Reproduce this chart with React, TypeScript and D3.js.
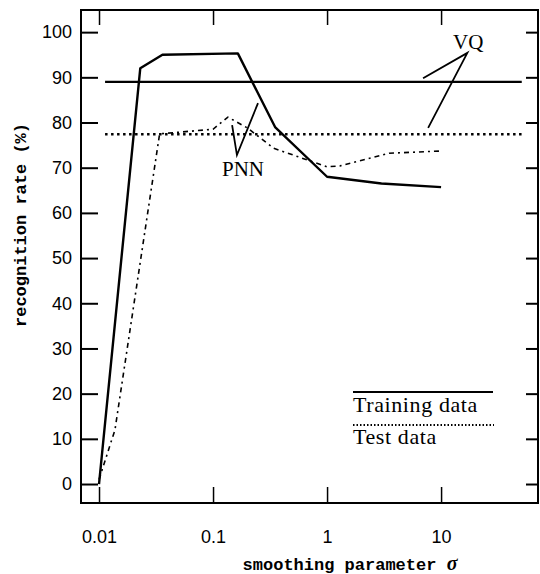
import React, { useEffect, useRef } from 'react'
import * as d3 from 'd3'

// PNN curves
const trainSigma = [0.01, 0.023, 0.036, 0.165, 0.35, 1.0, 3.0, 10]
const trainPNN = [0, 92, 95, 95.3, 79, 68, 66.5, 65.7]
const testSigma = [0.01, 0.0138, 0.034, 0.1, 0.135, 0.2, 0.34, 1.0, 1.3, 3.5, 10]
const testPNN = [1, 12, 77.5, 78.5, 81.2, 78.8, 74.3, 70.2, 70.4, 73.2, 73.7]

// VQ is flat over sigma
const vqSigma = [0.0113, 51]
const vqTrain = [89, 89]
const vqTest = [77.4, 77.4]

const yTicks = [0, 10, 20, 30, 40, 50, 60, 70, 80, 90, 100]
const xTicks = [0.01, 0.1, 1, 10]
const xTickLabels = ['0.01', '0.1', '1', '10']

const legendLabels = ['Training data', 'Test data']

export default function App() {
  const ref = useRef<SVGSVGElement>(null)

  useEffect(() => {
    const svg = d3.select(ref.current)
    svg.selectAll('*').remove()

    const left = 81, right = 538, top = 10, bottom = 503

    const x = d3.scaleLog().domain([0.00695, 70.8]).range([left, right])
    const y = d3.scaleLinear().domain([-4.2, 104.9]).range([bottom, top])

    // frame
    svg.append('rect')
      .attr('x', left).attr('y', top)
      .attr('width', right - left).attr('height', bottom - top)
      .attr('fill', 'none').attr('stroke', '#000').attr('stroke-width', 2)

    const tickFont = '"Liberation Sans", Arial, sans-serif'

    // left axis with labels
    const gl = svg.append('g').attr('transform', 'translate(' + left + ',0)')
      .call(d3.axisLeft(y).tickValues(yTicks).tickSize(-17).tickPadding(9).tickFormat(d3.format('d')))
    gl.select('.domain').remove()
    gl.selectAll('line').attr('stroke-width', 2)
    gl.selectAll('text').attr('font-family', tickFont).attr('font-size', 18).attr('fill', '#000')

    // right axis ticks only
    const gr = svg.append('g').attr('transform', 'translate(' + right + ',0)')
      .call(d3.axisRight(y).tickValues(yTicks).tickSize(-12).tickFormat(() => ''))
    gr.select('.domain').remove()
    gr.selectAll('line').attr('stroke-width', 2)

    // bottom axis
    const gb = svg.append('g').attr('transform', 'translate(0,' + bottom + ')')
      .call(d3.axisBottom(x).tickValues(xTicks).tickSize(-16).tickPadding(27)
        .tickFormat((d, i) => xTickLabels[i]))
    gb.select('.domain').remove()
    gb.selectAll('line').attr('stroke-width', 1.5)
    gb.selectAll('text').attr('font-family', tickFont).attr('font-size', 18).attr('fill', '#000')

    // top axis
    const gt = svg.append('g').attr('transform', 'translate(0,' + top + ')')
      .call(d3.axisTop(x).tickValues(xTicks).tickSize(-15).tickFormat(() => ''))
    gt.select('.domain').remove()
    gt.selectAll('line').attr('stroke-width', 1.5)

    const line = d3.line<[number, number]>()
      .x(d => x(d[0]))
      .y(d => y(d[1]))

    const pairs = (xs: number[], ys: number[]) => xs.map((v, i) => [v, ys[i]] as [number, number])

    // VQ lines
    svg.append('path').datum(pairs(vqSigma, vqTrain)).attr('d', line)
      .attr('fill', 'none').attr('stroke', '#000').attr('stroke-width', 2.2)
    svg.append('path').datum(pairs(vqSigma, vqTest)).attr('d', line)
      .attr('fill', 'none').attr('stroke', '#000').attr('stroke-width', 2.5)
      .attr('stroke-dasharray', '2.5,3.5')

    // PNN lines
    svg.append('path').datum(pairs(trainSigma, trainPNN)).attr('d', line)
      .attr('fill', 'none').attr('stroke', '#000').attr('stroke-width', 2.4)
      .attr('stroke-linejoin', 'round')
    svg.append('path').datum(pairs(testSigma, testPNN)).attr('d', line)
      .attr('fill', 'none').attr('stroke', '#000').attr('stroke-width', 1.6)
      .attr('stroke-dasharray', '5,4,2,4')

    const serif = '"Liberation Serif", "Times New Roman", serif'

    // PNN annotation
    svg.append('path')
      .datum([[0.147, 79.4], [0.162, 72.8], [0.248, 84.3]] as [number, number][])
      .attr('d', line).attr('fill', 'none').attr('stroke', '#000').attr('stroke-width', 1.8)
    svg.append('text').attr('x', x(0.183)).attr('y', y(68.1))
      .attr('text-anchor', 'middle').attr('font-family', serif).attr('font-size', 21)
      .text('PNN')

    // VQ annotation
    svg.append('path')
      .datum([[6.95, 89.8], [17, 95.4], [7.7, 78.8]] as [number, number][])
      .attr('d', line).attr('fill', 'none').attr('stroke', '#000').attr('stroke-width', 1.8)
    svg.append('text').attr('x', x(17.3)).attr('y', y(96.2))
      .attr('text-anchor', 'middle').attr('font-family', serif).attr('font-size', 21)
      .text('VQ')

    // legend
    const lg = svg.append('g').attr('transform', 'translate(353,392)')
    lg.append('line').attr('x1', 0).attr('x2', 140).attr('y1', 0).attr('y2', 0)
      .attr('stroke', '#000').attr('stroke-width', 2)
    lg.append('text').attr('x', 0).attr('y', 20).attr('font-family', serif).attr('font-size', 22)
      .attr('letter-spacing', 0.6).text(legendLabels[0])
    lg.append('line').attr('x1', 0).attr('x2', 141).attr('y1', 33).attr('y2', 33)
      .attr('stroke', '#000').attr('stroke-width', 2).attr('stroke-dasharray', '1.5,2')
    lg.append('text').attr('x', 0).attr('y', 52).attr('font-family', serif).attr('font-size', 22)
      .attr('letter-spacing', 0.6).text(legendLabels[1])

    // axis titles
    const mono = '"Liberation Mono", "Courier New", monospace'
    const xt = svg.append('text').attr('x', 350).attr('y', 570).attr('text-anchor', 'middle')
      .attr('font-family', mono).attr('font-weight', 'bold').attr('font-size', 17)
    xt.append('tspan').text('smoothing parameter ')
    xt.append('tspan').attr('font-family', serif).attr('font-style', 'italic').attr('font-size', 20).text('σ')

    svg.append('text').attr('transform', 'translate(26,225) rotate(-90)')
      .attr('text-anchor', 'middle').attr('font-family', mono).attr('font-weight', 'bold')
      .attr('font-size', 17).text('recognition rate (%)')
  }, [])

  return (
    <div style={{ position: 'absolute', left: 0, top: 0 }}>
      <svg ref={ref} width={540} height={574} style={{ display: 'block', background: '#fff' }}></svg>
    </div>
  )
}
